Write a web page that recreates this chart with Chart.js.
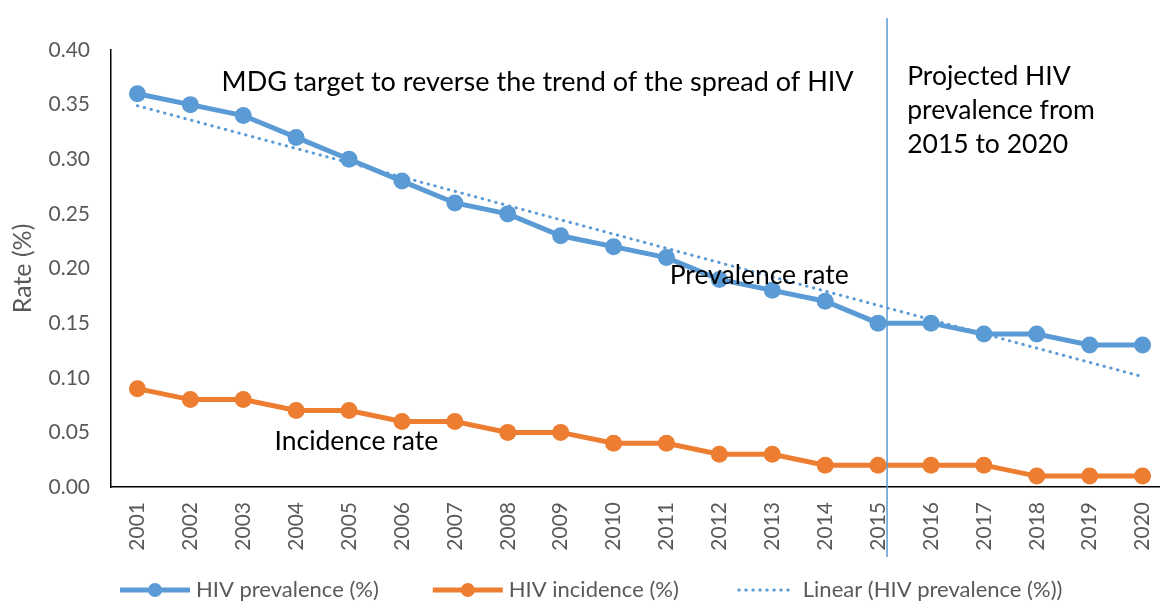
<!DOCTYPE html>
<html>
<head>
<meta charset="utf-8">
<script src="https://cdn.jsdelivr.net/npm/chart.js@4.4.0/dist/chart.umd.min.js"></script>
<style>
  html, body { margin: 0; padding: 0; background: #fff; overflow: hidden; }
  #wrap { width: 1183px; height: 603px; }
</style>
</head>
<body>
<div id="wrap"><canvas id="hiv-chart"></canvas></div>
<script>
// ---- data ----
var years = ['2001','2002','2003','2004','2005','2006','2007','2008','2009','2010',
             '2011','2012','2013','2014','2015','2016','2017','2018','2019','2020'];
var prevalence = [0.36, 0.35, 0.34, 0.32, 0.30, 0.28, 0.26, 0.25, 0.23, 0.22,
                  0.21, 0.19, 0.18, 0.17, 0.15, 0.15, 0.14, 0.14, 0.13, 0.13];
var incidence = [0.09, 0.08, 0.08, 0.07, 0.07, 0.06, 0.06, 0.05, 0.05, 0.04,
                 0.04, 0.03, 0.03, 0.02, 0.02, 0.02, 0.02, 0.01, 0.01, 0.01];
// linear trend line, end values
var trendValues = [0.349, null, null, null, null, null, null, null, null, null,
                   null, null, null, null, null, null, null, null, null, 0.101];
var yTicks = [0, 0.05, 0.10, 0.15, 0.20, 0.25, 0.30, 0.35, 0.40];

var blue = '#5b9bd5';
var orange = '#ed7d31';
var grey = '#595959';
var fontName = 'Lato, "Open Sans", sans-serif';

// ---- text notes and the 2015 divider, placed in data units ----
function drawNotes(chart) {
  var ctx = chart.ctx;
  var x = chart.scales.x, y = chart.scales.y;
  var step = x.getPixelForValue(1) - x.getPixelForValue(0);
  function px(i) { return x.getPixelForValue(0) + i * step; }

  ctx.save();
  // divider line
  var lx = px(14.17);
  ctx.strokeStyle = blue;
  ctx.lineWidth = 1.5;
  ctx.beginPath();
  ctx.moveTo(lx, chart.chartArea.top - 32);
  ctx.lineTo(lx, chart.chartArea.bottom + 70);
  ctx.stroke();

  ctx.fillStyle = '#000';
  ctx.textBaseline = 'middle';
  ctx.textAlign = 'left';
  ctx.font = '27px ' + fontName;
  ctx.fillText('MDG target to reverse the trend of the spread of HIV', px(1.59), y.getPixelForValue(0.370));
  ctx.font = '26.5px ' + fontName;
  ctx.fillText('Projected HIV', px(14.55), y.getPixelForValue(0.376));
  ctx.fillText('prevalence from', px(14.55), y.getPixelForValue(0.345));
  ctx.fillText('2015 to 2020', px(14.55), y.getPixelForValue(0.314));
  ctx.fillText('Prevalence rate', px(10.06), y.getPixelForValue(0.194));
  ctx.fillText('Incidence rate', px(2.59), y.getPixelForValue(0.042));
  ctx.restore();
}

// ---- bottom legend in the Excel style ----
function drawLegend(chart) {
  var ctx = chart.ctx;
  var yPos = 590;
  var xPos = 120;
  ctx.save();
  ctx.font = '22px ' + fontName;
  ctx.textBaseline = 'middle';
  chart.data.datasets.forEach(function(ds) {
    ctx.strokeStyle = ds.borderColor;
    ctx.lineWidth = ds.borderWidth;
    ctx.lineCap = ds.borderDash ? 'round' : 'butt';
    ctx.setLineDash(ds.borderDash || []);
    ctx.beginPath();
    if (ds.borderDash) {
      ctx.moveTo(xPos + 6, yPos);
      ctx.lineTo(xPos + 62, yPos);
    } else {
      ctx.moveTo(xPos, yPos);
      ctx.lineTo(xPos + 70, yPos);
    }
    ctx.stroke();
    ctx.setLineDash([]);
    if (ds.pointRadius > 0) {
      ctx.fillStyle = ds.borderColor;
      ctx.beginPath();
      ctx.arc(xPos + 35, yPos, 7, 0, Math.PI * 2);
      ctx.fill();
    }
    ctx.fillStyle = grey;
    var textX = ds.borderDash ? xPos + 70 : xPos + 76;
    ctx.fillText(ds.label, textX, yPos);
    xPos = textX + ctx.measureText(ds.label).width + 54;
  });
  ctx.restore();
}

var notesPlugin = {
  id: 'notes',
  afterDraw: function(chart) {
    drawNotes(chart);
    drawLegend(chart);
  }
};

var chartCanvas = document.getElementById('hiv-chart');

var newChart = new Chart(chartCanvas, {
  type: 'line',
  data: {
    labels: years,
    datasets: [{
      label: 'HIV prevalence (%)',
      data: prevalence,
      borderColor: blue,
      backgroundColor: blue,
      borderWidth: 5,
      pointRadius: 8.5,
      pointBorderWidth: 0,
      tension: 0
    }, {
      label: 'HIV incidence (%)',
      data: incidence,
      borderColor: orange,
      backgroundColor: orange,
      borderWidth: 5,
      pointRadius: 8.5,
      pointBorderWidth: 0,
      tension: 0
    }, {
      label: 'Linear (HIV prevalence (%))',
      data: trendValues,
      borderColor: blue,
      borderWidth: 3,
      borderDash: [0.5, 6.5],
      borderCapStyle: 'round',
      pointRadius: 0,
      spanGaps: true,
      tension: 0
    }]
  },
  options: {
    responsive: true,
    maintainAspectRatio: false,
    animation: false,
    layout: { padding: { left: 0, right: 0, top: 50, bottom: 0 } },
    plugins: {
      legend: { display: false },
      tooltip: { enabled: false }
    },
    scales: {
      x: {
        offset: true,
        grid: { display: false, drawTicks: false },
        border: { display: true, color: '#000', width: 1.5 },
        ticks: {
          color: grey,
          font: { family: fontName, size: 21 },
          minRotation: 90,
          maxRotation: 90,
          padding: 15,
          autoSkip: false
        },
        afterFit: function(scale) { scale.height = 116; }
      },
      y: {
        min: 0,
        max: 0.4,
        grid: { display: false, drawTicks: false },
        border: { display: true, color: '#000', width: 1.5 },
        afterBuildTicks: function(scale) {
          scale.ticks = yTicks.map(function(v) { return { value: v }; });
        },
        ticks: {
          color: grey,
          font: { family: fontName, size: 21 },
          padding: 21,
          callback: function(v) { return Number(v).toFixed(2); }
        },
        title: {
          display: true,
          text: 'Rate (%)',
          color: grey,
          font: { family: fontName, size: 25 },
          padding: { top: 8, bottom: 0 }
        },
        afterFit: function(scale) { scale.width = 111; }
      }
    }
  },
  plugins: [notesPlugin]
});
</script>
</body>
</html>
